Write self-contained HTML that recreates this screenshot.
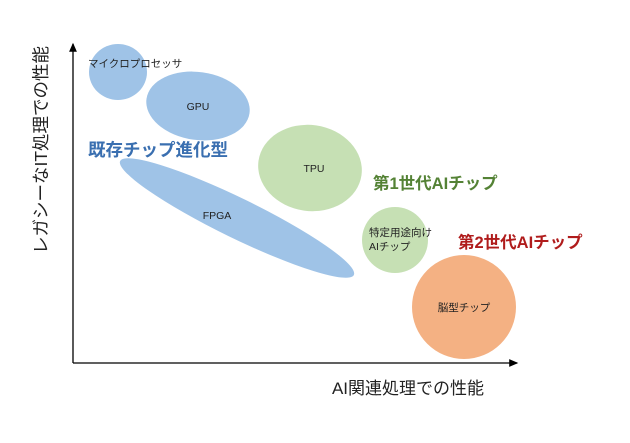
<!DOCTYPE html>
<html><head><meta charset="utf-8"><style>
html,body{margin:0;padding:0;background:#fff;}
svg{display:block;font-family:"Liberation Sans","Noto Sans CJK JP",sans-serif;}
</style></head><body>
<svg width="630" height="443" viewBox="0 0 630 443">
<defs>
<marker id="a" markerWidth="8" markerHeight="8" refX="6" refY="4" orient="auto"><path d="M0,1 L7,4 L0,7 z" fill="#000"/></marker>
</defs>
<ellipse cx="118" cy="72" rx="29" ry="28" fill="#9fc3e7"/>
<ellipse cx="198" cy="106" rx="52" ry="34" transform="rotate(8 198 106)" fill="#9fc3e7"/>
<ellipse cx="310" cy="168" rx="52" ry="43" transform="rotate(8 310 168)" fill="#c6e0b4"/>
<ellipse cx="237" cy="218" rx="130" ry="20" transform="rotate(26 237 218)" fill="#9fc3e7"/>
<ellipse cx="395" cy="240" rx="33" ry="33" fill="#c6e0b4"/>
<ellipse cx="464" cy="307" rx="52" ry="52" fill="#f4b183"/>
<line x1="73" y1="363" x2="73" y2="44" stroke="#000" stroke-width="1.3" marker-end="url(#a)"/>
<line x1="73" y1="363" x2="517" y2="363" stroke="#000" stroke-width="1.3" marker-end="url(#a)"/>
<g font-size="10.5" fill="#222">
<text x="88" y="67">マイクロプロセッサ</text>
<text x="198" y="110" text-anchor="middle">GPU</text>
<text x="314" y="172" text-anchor="middle">TPU</text>
<text x="217" y="219" text-anchor="middle">FPGA</text>
<text x="369" y="236">特定用途向け</text>
<text x="369" y="250">AIチップ</text>
<text x="464" y="311" text-anchor="middle">脳型チップ</text>
</g>
<text x="88" y="156" font-size="17.5" font-weight="bold" fill="#3a6fb0">既存チップ進化型</text>
<text x="373" y="189" font-size="16.5" font-weight="bold" fill="#548235">第1世代AIチップ</text>
<text x="458" y="248" font-size="16.5" font-weight="bold" fill="#b01c1c">第2世代AIチップ</text>
<text x="408" y="394" font-size="17" text-anchor="middle" fill="#222">AI関連処理での性能</text>
<text transform="translate(47 150) rotate(-90)" font-size="17.5" text-anchor="middle" fill="#222">レガシーなIT処理での性能</text>
</svg>
</body></html>
